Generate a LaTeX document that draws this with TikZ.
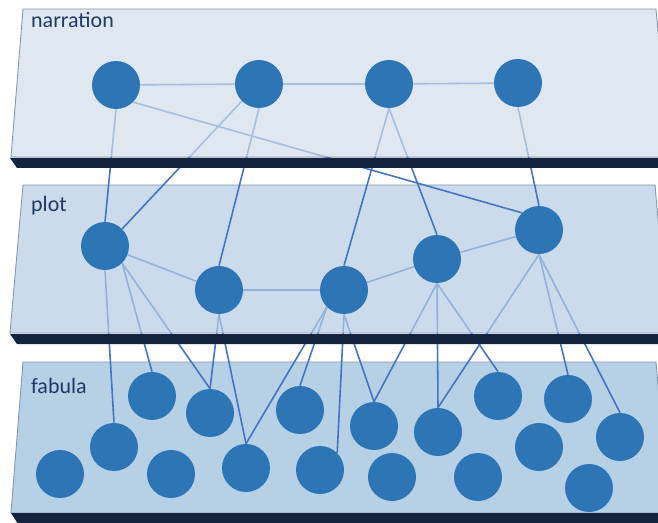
\documentclass[tikz,border=0pt]{standalone}
\usepackage{fontspec}
\setmainfont{Carlito}
\definecolor{dotblue}{HTML}{2E75B6}
\definecolor{linkblue}{HTML}{4472C4}
\definecolor{rimnavy}{HTML}{15233F}
\definecolor{narrface}{RGB}{209,221,234}
\definecolor{plotface}{RGB}{181,204,226}
\definecolor{fabface}{HTML}{B6D0E5}
\definecolor{labelnavy}{HTML}{1F3864}
\definecolor{edgegrey}{HTML}{8496B0}

\begin{document}
\begin{tikzpicture}[x=0.02cm, y=-0.02cm,
  dot/.style={circle, minimum size=0.96cm, inner sep=0pt},
  link/.style={draw=linkblue, line width=0.9pt},
  slab/.style={draw=edgegrey, line width=0.5pt},
  rim/.style={fill=rimnavy},
  layername/.style={anchor=base west, text=labelnavy, font=\fontsize{12.5}{14}\selectfont}]

\useasboundingbox (0,0) rectangle (658,523);

\node[dot] (n1) at (116,85) {};
\node[dot] (n2) at (259,84) {};
\node[dot] (n3) at (389,84) {};
\node[dot] (n4) at (518,83) {};

\node[dot] (p1) at (105,246) {};
\node[dot] (p2) at (219,290) {};
\node[dot] (p3) at (344,290) {};
\node[dot] (p4) at (437,259) {};
\node[dot] (p5) at (539,230) {};

\node[dot] (f1) at (60,474) {};
\node[dot] (f2) at (114,447) {};
\node[dot] (f3) at (152,396) {};
\node[dot] (f4) at (171,474) {};
\node[dot] (f5) at (210,413) {};
\node[dot] (f6) at (246,468) {};
\node[dot] (f7) at (300,410) {};
\node[dot] (f8) at (320,470) {};
\node[dot] (f9) at (374,426) {};
\node[dot] (f10) at (392,477) {};
\node[dot] (f11) at (438,432) {};
\node[dot] (f12) at (478,477) {};
\node[dot] (f13) at (498,396) {};
\node[dot] (f14) at (539,447) {};
\node[dot] (f15) at (568,399) {};
\node[dot] (f16) at (589,488) {};
\node[dot] (f17) at (620,437) {};

\path[slab, fill=fabface] (23,362) -- (656,362) -- (669,513) -- (11,513) -- cycle;
\fill[rim] (11,513) -- (670,513) -- (670,524) -- (18,524) -- cycle;

\draw[link] (p1.south) -- (f2.north);
\draw[link] (p1.south east) -- (f3.north);
\draw[link] (p1.south east) -- (f5.north);
\draw[link] (p2.south) -- (f5.north);
\draw[link] (p2.south) -- (f6.north);
\draw[link] (p3.south) -- (f8.north east);
\draw[link] (p3.south) -- (f9.north);
\draw[link] (p3.south west) -- (f6.north);
\draw[link] (p3.south west) -- (f7.north);
\draw[link] (p4.south) -- (f9.north);
\draw[link] (p4.south) -- (f11.north);
\draw[link] (p4.south) -- (f13.north);
\draw[link] (p5.south) -- (f11.north);
\draw[link] (p5.south) -- (f15.north);
\draw[link] (p5.south) -- (f17.north);
\draw[link] (p1) -- (p2);
\draw[link] (p2) -- (p3);
\draw[link] (p3) -- (p4);
\draw[link] (p4) -- (p5);

\path[slab, fill=plotface, fill opacity=0.7] (23,185) -- (655,185) -- (668,333) -- (10,333) -- cycle;
\fill[rim] (10,334) -- (670,334) -- (670,344) -- (17,344) -- cycle;

\draw[link] (n1.south) -- (p1.north);
\draw[link] (n2.south west) -- (p1.north east);
\draw[link] (n2.south) -- (p2.north);
\draw[link] (n1.south east) -- (p5.north west);
\draw[link] (n3.south) -- (p3.north);
\draw[link] (n3.south) -- (p4.north);
\draw[link] (n4.south) -- (p5.north);
\draw[link] (n1) -- (n2);
\draw[link] (n2) -- (n3);
\draw[link] (n3) -- (n4);

\path[slab, fill=narrface, fill opacity=0.7] (23,9) -- (656,9) -- (669,157) -- (11,157) -- cycle;
\fill[rim] (10,158) -- (670,158) -- (670,168) -- (17,168) -- cycle;

\node[layername] (narration) at (25,28) {narration};
\node[layername] (plot) at (25,212) {plot};
\node[layername] (fabula) at (25,393) {fabula};

\foreach \d in {n1,n2,n3,n4,p1,p2,p3,p4,p5,f1,f2,f3,f4,f5,f6,f7,f8,f9,f10,f11,f12,f13,f14,f15,f16,f17}
  \node[dot, fill=dotblue] at (\d) {};
\end{tikzpicture}
\end{document}
